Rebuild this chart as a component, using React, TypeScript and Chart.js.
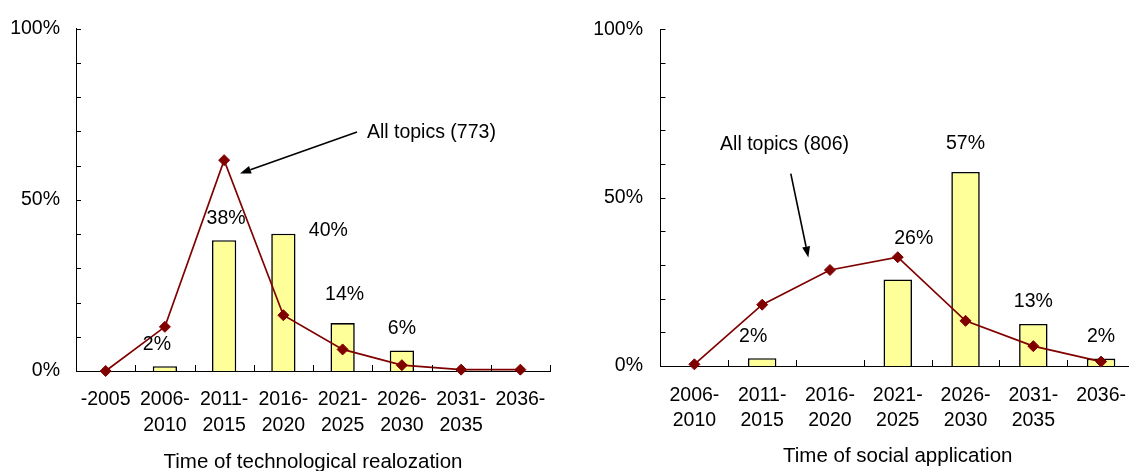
import React, { useEffect, useRef } from 'react';
import { Chart, registerables } from 'chart.js';

Chart.register(...registerables);

// ---------- data ----------
const techCategories: string[][] = [
  ['-2005'], ['2006-', '2010'], ['2011-', '2015'], ['2016-', '2020'],
  ['2021-', '2025'], ['2026-', '2030'], ['2031-', '2035'], ['2036-'],
];
const techBars: (number | null)[] = [null, 1.4, 38.2, 40.1, 14.0, 6.0, null, null];
const techLine: number[] = [0, 12.9, 61.6, 16.3, 6.3, 1.7, 0.4, 0.4];
const techBarLabels: string[] = ['', '2%', '38%', '40%', '14%', '6%', '', ''];
const techNote = 'All topics (773)';
const techTitle = 'Time of technological realozation';

const socialCategories: string[][] = [
  ['2006-', '2010'], ['2011-', '2015'], ['2016-', '2020'], ['2021-', '2025'],
  ['2026-', '2030'], ['2031-', '2035'], ['2036-'],
];
const socialBars: (number | null)[] = [null, 2.3, null, 25.7, 57.6, 12.5, 2.2];
const socialLine: number[] = [0.5, 18.2, 28.5, 32.3, 13.4, 5.9, 1.3];
const socialBarLabels: string[] = ['', '2%', '', '26%', '57%', '13%', '2%'];
const socialNote = 'All topics (806)';
const socialTitle = 'Time of social application';

const yLabeledTicks: number[] = [0, 50, 100];

// ---------- styling ----------
const FONT = '"Liberation Sans", Arial, Helvetica, sans-serif';
const BAR_FILL = '#FFFF99';
const LINE_COLOR = '#800000';

type Note = {
  text: string;
  textX: number; textY: number;
  fromX: number; fromY: number;
  toX: number; toY: number;
};

type PanelOpts = {
  labels: string[][];
  bars: (number | null)[];
  line: number[];
  barLabels: string[];
  labelOffsets: number[][];
  note: Note;
  title: string;
  yAxisWidth: number;
  xAxisHeight: number;
  padTop: number;
  padRight: number;
  yTickPad: number;
  xTickPad: number;
  xLineHeight: number;
  titlePadBottom: number;
  barPct: number;
};

function buildConfig(p: PanelOpts): any {
  const inTicks = {
    id: 'inTicks',
    afterDatasetsDraw(chart: any) {
      const { ctx } = chart;
      const xs = chart.scales.x;
      const ys = chart.scales.y;
      ctx.save();
      ctx.strokeStyle = '#000';
      ctx.lineWidth = 1;
      ctx.beginPath();
      for (let v = 0; v <= 100; v += 10) {
        const y = Math.round(ys.getPixelForValue(v)) + 0.5;
        ctx.moveTo(xs.left, y);
        ctx.lineTo(xs.left + 5, y);
      }
      const n = p.labels.length;
      for (let i = 1; i <= n; i++) {
        const x = Math.round(xs.getPixelForValue(i - 0.5)) + 0.5;
        ctx.moveTo(x, ys.bottom);
        ctx.lineTo(x, ys.bottom - 6);
      }
      ctx.stroke();
      ctx.restore();
    },
  };

  const barText = {
    id: 'barText',
    afterDatasetsDraw(chart: any) {
      const { ctx } = chart;
      const meta = chart.getDatasetMeta(0);
      ctx.save();
      ctx.font = `19.5px ${FONT}`;
      ctx.fillStyle = '#000';
      ctx.textAlign = 'center';
      ctx.textBaseline = 'middle';
      p.barLabels.forEach((t, i) => {
        if (!t) return;
        const el = meta.data[i];
        const off = p.labelOffsets[i] || [0, 0];
        ctx.fillText(t, el.x + off[0], el.y - 22 + off[1]);
      });
      ctx.restore();
    },
  };

  const noteArrow = {
    id: 'noteArrow',
    afterDatasetsDraw(chart: any) {
      const { ctx } = chart;
      const xs = chart.scales.x;
      const ys = chart.scales.y;
      const n = p.note;
      const tx = xs.getPixelForValue(n.textX);
      const ty = ys.getPixelForValue(n.textY);
      const x1 = xs.getPixelForValue(n.fromX);
      const y1 = ys.getPixelForValue(n.fromY);
      const x2 = xs.getPixelForValue(n.toX);
      const y2 = ys.getPixelForValue(n.toY);
      ctx.save();
      ctx.font = `19.5px ${FONT}`;
      ctx.fillStyle = '#000';
      ctx.textAlign = 'left';
      ctx.textBaseline = 'middle';
      ctx.fillText(n.text, tx, ty);
      const ang = Math.atan2(y2 - y1, x2 - x1);
      const headLen = 11;
      const headHalf = 4;
      const bx = x2 - headLen * Math.cos(ang);
      const by = y2 - headLen * Math.sin(ang);
      ctx.strokeStyle = '#000';
      ctx.lineWidth = 1.6;
      ctx.beginPath();
      ctx.moveTo(x1, y1);
      ctx.lineTo(bx, by);
      ctx.stroke();
      ctx.beginPath();
      ctx.moveTo(x2, y2);
      ctx.lineTo(bx + headHalf * Math.sin(ang), by - headHalf * Math.cos(ang));
      ctx.lineTo(bx - headHalf * Math.sin(ang), by + headHalf * Math.cos(ang));
      ctx.closePath();
      ctx.fillStyle = '#000';
      ctx.fill();
      ctx.restore();
    },
  };

  return {
    type: 'bar',
    data: {
      labels: p.labels,
      datasets: [
        {
          type: 'bar',
          data: p.bars,
          backgroundColor: BAR_FILL,
          borderColor: '#000',
          borderWidth: 1.6,
          borderSkipped: 'bottom',
          barPercentage: p.barPct,
          categoryPercentage: 1,
          order: 2,
        },
        {
          type: 'line',
          data: p.line,
          borderColor: LINE_COLOR,
          borderWidth: 1.7,
          pointStyle: 'rectRot',
          pointRadius: 5.5,
          pointBackgroundColor: LINE_COLOR,
          pointBorderColor: LINE_COLOR,
          pointBorderWidth: 1,
          tension: 0,
          clip: false,
          order: 1,
        },
      ],
    },
    options: {
      responsive: false,
      animation: false,
      devicePixelRatio: 1,
      layout: { padding: { left: 0, right: p.padRight, top: p.padTop, bottom: 0 } },
      plugins: {
        legend: { display: false },
        tooltip: { enabled: false },
        title: { display: false },
      },
      scales: {
        x: {
          type: 'category',
          offset: true,
          grid: { display: false, drawTicks: false },
          border: { display: true, color: '#000', width: 1 },
          ticks: {
            color: '#000',
            autoSkip: false,
            maxRotation: 0,
            minRotation: 0,
            padding: p.xTickPad,
            font: { family: FONT, size: 19.5, lineHeight: p.xLineHeight / 19.5 },
          },
          title: {
            display: true,
            text: p.title,
            color: '#000',
            font: { family: FONT, size: 20.5, lineHeight: 1 },
            padding: { top: 0, bottom: p.titlePadBottom },
          },
          afterFit(scale: any) {
            scale.height = p.xAxisHeight;
          },
        },
        y: {
          min: 0,
          max: 100,
          grid: { display: false, drawTicks: false },
          border: { display: true, color: '#000', width: 1 },
          ticks: {
            stepSize: 10,
            color: '#000',
            padding: p.yTickPad,
            font: { family: FONT, size: 19.5 },
            callback: (v: any) => (yLabeledTicks.includes(Number(v)) ? `${v}%` : ''),
          },
          afterFit(scale: any) {
            scale.width = p.yAxisWidth;
          },
        },
      },
    },
    plugins: [inTicks, barText, noteArrow],
  };
}

function Panel({ left, width, opts }: { left: number; width: number; opts: PanelOpts }) {
  const ref = useRef<HTMLCanvasElement>(null);
  useEffect(() => {
    const chart = new Chart(ref.current as HTMLCanvasElement, buildConfig(opts));
    return () => chart.destroy();
  }, []);
  return (
    <div style={{ position: 'absolute', left, top: 0, width, height: 471 }}>
      <canvas ref={ref} width={width} height={471} style={{ display: 'block', width, height: 471 }} />
    </div>
  );
}

const techOpts: PanelOpts = {
  labels: techCategories,
  bars: techBars,
  line: techLine,
  barLabels: techBarLabels,
  labelOffsets: [[0, 0], [-8, 0], [2, 0], [45, 19], [2, -6], [0, 0], [0, 0], [0, 0]],
  note: { text: techNote, textX: 4.41, textY: 69.6, fromX: 4.243, fromY: 69.8, toX: 2.268, toY: 57.7 },
  title: techTitle,
  yAxisWidth: 76,
  xAxisHeight: 100,
  padTop: 28.7,
  padRight: 20,
  yTickPad: 16,
  xTickPad: 16,
  xLineHeight: 26,
  titlePadBottom: -1.5,
  barPct: 0.41,
};

const socialOpts: PanelOpts = {
  labels: socialCategories,
  bars: socialBars,
  line: socialLine,
  barLabels: socialBarLabels,
  labelOffsets: [[0, 0], [-9, 0], [0, 0], [16, -19], [0, -6.5], [0, 0], [0, 0]],
  note: { text: socialNote, textX: 0.379, textY: 65.6, fromX: 1.422, fromY: 57.1, toX: 1.681, toY: 32.2 },
  title: socialTitle,
  yAxisWidth: 90.5,
  xAxisHeight: 105,
  padTop: 24.3,
  padRight: 15,
  yTickPad: 17.5,
  xTickPad: 17,
  xLineHeight: 25.3,
  titlePadBottom: 4,
  barPct: 0.42,
};

export default function App() {
  return (
    <div
      style={{
        position: 'fixed',
        left: 0,
        top: 0,
        width: 1129,
        height: 471,
        overflow: 'hidden',
        background: '#fff',
      }}
    >
      <Panel left={0} width={570} opts={techOpts} />
      <Panel left={570} width={580} opts={socialOpts} />
    </div>
  );
}
